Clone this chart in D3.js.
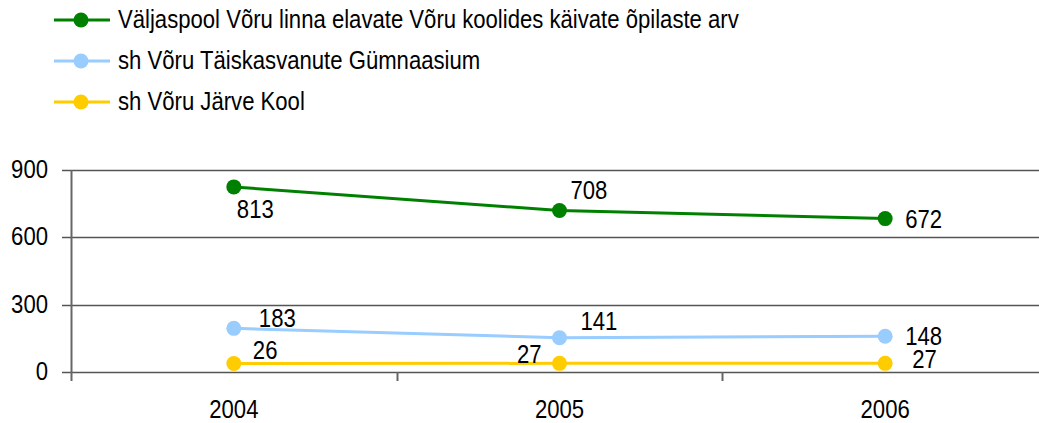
<!DOCTYPE html>
<html>
<head>
<meta charset="utf-8">
<script src="https://cdn.jsdelivr.net/npm/d3@7"></script>
<style>
  body { margin: 0; background: #fff; }
  text { font-family: Arial, "Liberation Sans", sans-serif; fill: #000; }
</style>
</head>
<body>
<div id="chart"></div>
<script>
// data
const years = ["2004", "2005", "2006"];
const seriesNames = [
  "Väljaspool Võru linna elavate Võru koolides käivate õpilaste arv",
  "sh Võru Täiskasvanute Gümnaasium",
  "sh Võru Järve Kool"
];
const valjaspool = [813, 708, 672];
const taiskasvanute = [183, 141, 148];
const jarveKool = [26, 27, 27];
const yTicks = [0, 300, 600, 900];

const colors = ["#008000", "#99ccff", "#ffcc00"];
// label placement per point: [dx, dy, anchor]
const labelPos = [
  [[3, 31, "start"], [11, -11, "start"], [20, 9, "start"]],
  [[25, -1, "start"], [21, -8, "start"], [20, 9, "start"]],
  [[19, -5, "start"], [-18, 0, "end"], [27, 5, "start"]]
];

let width = 1039, height = 423;
let fontSize = 25;
let squeeze = 0.885;   // the original font is a narrow one

let svg = d3.select("#chart")
    .append("svg")
    .attr("width", width)
    .attr("height", height);

// text squeezed horizontally around its anchor point
function label(parent, tx, ty, str, anchor) {
  return parent.append("text")
      .attr("transform", `translate(${tx},${ty}) scale(${squeeze},1)`)
      .style("text-anchor", anchor || "start")
      .style("font-size", fontSize + "px")
      .text(str);
}

let x = d3.scaleBand()
    .domain(years)
    .range([71, 1048]);

let y = d3.scaleLinear()
    .domain([0, 900])
    .range([372, 170]);

// gridlines
svg.append("g")
    .selectAll("line")
    .data(yTicks)
    .enter()
    .append("line")
    .attr("x1", 62)
    .attr("x2", width)
    .attr("y1", d => Math.round(y(d)) + 0.5)
    .attr("y2", d => Math.round(y(d)) + 0.5)
    .attr("stroke", "#555")
    .attr("stroke-width", 1.4);

// y axis line
svg.append("line")
    .attr("x1", 71.5).attr("x2", 71.5)
    .attr("y1", y(900)).attr("y2", y(0) + 9)
    .attr("stroke", "#666")
    .attr("stroke-width", 2);

// x tick marks between categories
svg.append("g")
    .selectAll("line")
    .data(years.slice(1))
    .enter()
    .append("line")
    .attr("x1", d => Math.round(x(d)) + 0.5)
    .attr("x2", d => Math.round(x(d)) + 0.5)
    .attr("y1", y(0))
    .attr("y2", y(0) + 9)
    .attr("stroke", "#666")
    .attr("stroke-width", 2);

// y tick labels
let yLab = svg.append("g");
yTicks.forEach(function(t) {
  label(yLab, 48, y(t) + 8, t, "end");
});

// x labels
let xLab = svg.append("g");
years.forEach(function(yr) {
  label(xLab, x(yr) + x.bandwidth() / 2, 418, yr, "middle");
});

// series
let allSeries = [valjaspool, taiskasvanute, jarveKool];
let plot = svg.append("g").attr("transform", "translate(0,-2.6)");
let line = d3.line()
    .x((d, i) => x(years[i]) + x.bandwidth() / 2)
    .y(d => y(d));

allSeries.forEach(function(vals, s) {
  plot.append("path")
      .datum(vals)
      .attr("fill", "none")
      .attr("stroke", colors[s])
      .attr("stroke-width", 3)
      .attr("d", line);

  plot.selectAll(".pt" + s)
      .data(vals)
      .enter()
      .append("circle")
      .attr("cx", (d, i) => x(years[i]) + x.bandwidth() / 2)
      .attr("cy", d => y(d))
      .attr("r", 7.5)
      .attr("fill", colors[s]);

  vals.forEach(function(v, i) {
    let p = labelPos[s][i];
    label(plot, x(years[i]) + x.bandwidth() / 2 + p[0], y(v) + p[1], v, p[2]);
  });
});

// legend
let legend = svg.append("g");
seriesNames.forEach(function(name, s) {
  let ly = 20 + s * 41;
  legend.append("line")
      .attr("x1", 54).attr("x2", 110)
      .attr("y1", ly).attr("y2", ly)
      .attr("stroke", colors[s])
      .attr("stroke-width", 3);
  legend.append("circle")
      .attr("cx", 81).attr("cy", ly)
      .attr("r", 7.5)
      .attr("fill", colors[s]);
  label(legend, 118, ly + 8, name, "start");
});
</script>
</body>
</html>
